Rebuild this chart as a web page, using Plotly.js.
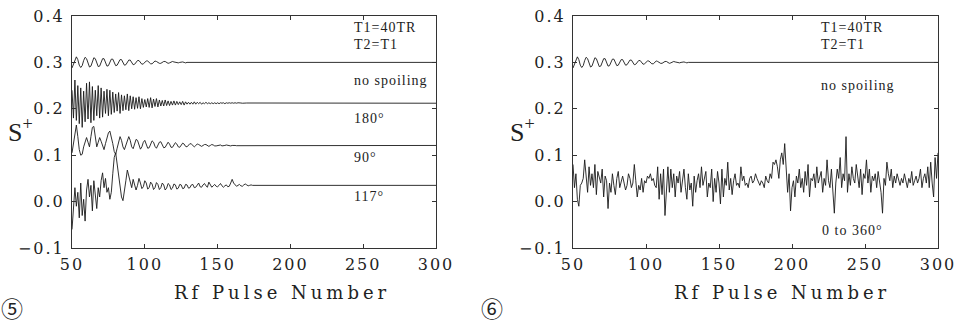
<!DOCTYPE html>
<html>
<head>
<meta charset="utf-8">
<script src="https://cdn.plot.ly/plotly-3.0.1.min.js"></script>
<style>
html,body{margin:0;padding:0;background:#fff;}
.xtick text,.ytick text,.x2tick text,.y2tick text{letter-spacing:2px;}
</style>
</head>
<body>
<div id="chart" style="width:957px;height:324px;"></div>
<script>
// ---------- DATA ----------
var firstPulse = 50;
var lastPulse = 300;
var xTicks = [50, 100, 150, 200, 250, 300];
var yTicks = [-0.1, 0.0, 0.1, 0.2, 0.3, 0.4];

// steady-state values reached by each curve (left panel)
var steadyNoSpoil = 0.300;
var steady180 = 0.212;
var steady90 = 0.121;
var steady117 = 0.035;

// no spoiling (pulses 50..135)
var noSpoil = [0.288,0.296,0.308,0.312,0.306,0.294,0.289,0.293,0.304,0.311,
0.308,0.297,0.290,0.292,0.302,0.310,0.308,0.299,0.291,0.292,
0.300,0.308,0.308,0.300,0.292,0.293,0.300,0.307,0.307,0.300,
0.293,0.294,0.300,0.306,0.306,0.300,0.294,0.295,0.300,0.305,
0.305,0.300,0.295,0.296,0.300,0.304,0.304,0.300,0.296,0.297,
0.300,0.303,0.303,0.300,0.297,0.297,0.300,0.303,0.302,0.300,
0.298,0.298,0.300,0.302,0.302,0.300,0.298,0.299,0.300,0.302,
0.301,0.300,0.299,0.299,0.300,0.301,0.301,0.300,0.299,0.300,
0.300,0.301,0.300,0.300,0.2995,0.300];

// 180 degree spoiling (pulses 50..170)
var spoil180 = [0.240,0.180,0.262,0.175,0.250,0.168,0.245,0.160,0.238,0.172,
0.255,0.178,0.258,0.170,0.248,0.175,0.240,0.185,0.250,0.180,
0.245,0.182,0.238,0.190,0.242,0.185,0.240,0.188,0.236,0.192,
0.232,0.195,0.235,0.190,0.230,0.196,0.228,0.198,0.232,0.196,
0.228,0.200,0.226,0.199,0.224,0.201,0.226,0.200,0.222,0.203,
0.220,0.204,0.222,0.203,0.224,0.202,0.221,0.205,0.222,0.204,
0.219,0.206,0.218,0.206,0.219,0.207,0.217,0.207,0.216,0.208,
0.217,0.208,0.216,0.209,0.215,0.209,0.216,0.208,0.215,0.210,
0.214,0.210,0.214,0.210,0.215,0.210,0.214,0.211,0.214,0.210,
0.213,0.211,0.214,0.211,0.213,0.211,0.213,0.211,0.213,0.211,
0.213,0.211,0.213,0.212,0.213,0.211,0.213,0.212,0.213,0.212,
0.213,0.212,0.213,0.212,0.213,0.212,0.2125,0.212,0.2125,0.212,0.2125];

// 90 degree spoiling (pulses 50..165)
var spoil90 = [0.105,0.125,0.150,0.165,0.140,0.112,0.100,0.102,0.118,0.130,
0.138,0.128,0.118,0.140,0.160,0.162,0.140,0.118,0.128,0.138,
0.130,0.118,0.112,0.125,0.138,0.148,0.152,0.140,0.125,0.108,
0.102,0.115,0.130,0.140,0.132,0.118,0.112,0.122,0.135,0.140,
0.132,0.118,0.114,0.122,0.134,0.132,0.120,0.113,0.118,0.128,
0.132,0.125,0.115,0.116,0.125,0.131,0.128,0.119,0.115,0.120,
0.128,0.129,0.122,0.116,0.117,0.124,0.128,0.124,0.117,0.117,
0.123,0.127,0.124,0.118,0.117,0.122,0.126,0.124,0.119,0.118,
0.121,0.125,0.124,0.120,0.118,0.121,0.124,0.123,0.120,0.119,
0.121,0.123,0.123,0.120,0.119,0.121,0.123,0.122,0.120,0.120,
0.121,0.122,0.122,0.120,0.120,0.121,0.122,0.121,0.120,0.120,
0.121,0.1215,0.121,0.1205,0.1205,0.121];

// 117 degree spoiling (pulses 50..175)
var spoil117 = [-0.060,-0.020,0.030,-0.010,0.020,-0.035,0.040,-0.030,0.005,-0.042,
0.025,0.048,0.010,0.035,-0.020,0.045,0.020,-0.015,0.030,0.010,
0.045,0.062,0.030,0.050,0.020,0.030,0.005,0.020,0.060,0.095,
0.105,0.080,0.050,0.025,0.010,0.002,0.020,0.045,0.068,0.055,
0.040,0.030,0.048,0.038,0.025,0.035,0.050,0.040,0.028,0.032,
0.045,0.040,0.027,0.030,0.042,0.038,0.026,0.030,0.041,0.037,
0.026,0.030,0.040,0.036,0.025,0.029,0.039,0.036,0.026,0.029,
0.038,0.036,0.027,0.029,0.037,0.036,0.028,0.029,0.037,0.036,
0.029,0.030,0.036,0.037,0.030,0.031,0.037,0.040,0.032,0.031,
0.036,0.039,0.034,0.031,0.042,0.035,0.031,0.034,0.037,0.033,
0.032,0.035,0.039,0.034,0.031,0.034,0.036,0.032,0.033,0.040,
0.048,0.040,0.035,0.033,0.035,0.037,0.034,0.033,0.036,0.038,
0.036,0.034,0.035,0.036,0.035,0.035];

// random 0 to 360 degree spoiling (right panel, pulses 50..300)
var spoilRandom = [0.080,0.030,0.060,0.005,-0.010,0.035,0.040,0.050,0.090,0.045,
0.020,0.075,0.035,0.060,0.030,0.080,0.015,0.065,0.050,0.040,
0.070,0.010,0.055,0.045,-0.015,0.040,0.020,0.060,0.035,0.015,
0.050,0.065,0.030,0.045,0.055,0.040,0.025,0.035,0.060,0.050,
0.030,0.040,0.080,0.045,0.010,0.035,0.025,0.050,0.020,0.045,
0.040,0.055,0.050,0.060,0.045,0.050,0.035,0.030,0.075,0.005,
0.060,0.015,0.070,-0.030,0.040,0.075,0.020,0.070,0.030,0.060,
0.010,0.055,0.040,0.065,0.020,0.050,0.070,0.030,0.005,0.060,
0.025,0.040,-0.010,0.055,0.020,0.045,0.060,0.030,0.075,0.035,
0.050,0.065,0.010,0.040,0.030,0.070,0.000,0.050,0.020,0.065,
0.040,-0.005,0.070,0.010,0.050,0.035,0.085,0.025,0.050,0.015,
0.045,0.060,0.035,0.040,0.030,0.075,0.045,0.055,0.035,0.040,
0.030,0.050,0.055,0.040,0.045,0.060,0.050,0.040,0.035,0.045,
0.040,0.030,0.055,0.045,0.040,0.060,0.050,0.085,0.080,0.090,
0.075,0.050,0.090,0.105,0.080,0.125,0.070,0.020,0.060,-0.020,
0.030,0.045,0.010,0.055,0.040,0.070,0.030,0.050,0.020,0.065,
0.035,0.080,0.010,0.050,0.045,0.060,0.030,0.075,0.040,0.055,
0.065,0.020,0.050,0.035,0.090,0.045,0.030,0.070,0.010,-0.025,
0.040,0.070,0.050,0.095,0.030,0.060,0.045,0.140,0.020,0.060,
0.035,0.075,0.050,0.040,0.080,0.060,0.030,0.070,0.015,0.060,
0.050,0.090,0.040,0.070,0.020,0.055,0.045,0.060,0.030,0.065,
0.040,0.020,-0.025,0.050,0.035,0.085,0.060,0.045,0.070,0.030,
0.055,0.040,0.060,0.045,0.035,0.050,0.040,0.060,0.045,0.030,
0.050,0.040,0.065,0.035,0.045,0.055,0.040,0.050,0.070,0.030,
0.050,0.060,0.040,0.075,0.030,0.085,0.040,0.010,0.095,0.050,
0.105];

var leftLabels = ["T1=40TR", "T2=T1", "no spoiling", "180°", "90°", "117°"];
var rightLabels = ["T1=40TR", "T2=T1", "no spoiling", "0 to 360°"];
var xTitle = "Rf Pulse Number";
var yTitle = "S<sup>+</sup>";
var panelNumbers = ["⑤", "⑥"];

// ---------- BUILD ----------
function series(vals, steady) {
  var x = [], y = [];
  for (var i = 0; i < vals.length; i++) { x.push(firstPulse + i); y.push(vals[i]); }
  if (steady !== undefined) { x.push(lastPulse); y.push(steady); }
  return {x: x, y: y};
}
var lineStyle = {color: '#1a1a1a', width: 0.9};
function trace(s, xa, ya) {
  return {x: s.x, y: s.y, xaxis: xa, yaxis: ya, type: 'scatter', mode: 'lines',
          line: lineStyle, hoverinfo: 'skip'};
}
var data = [
  trace(series(noSpoil, steadyNoSpoil), 'x', 'y'),
  trace(series(spoil180, steady180), 'x', 'y'),
  trace(series(spoil90, steady90), 'x', 'y'),
  trace(series(spoil117, steady117), 'x', 'y'),
  trace(series(noSpoil, steadyNoSpoil), 'x2', 'y2'),
  trace(series(spoilRandom), 'x2', 'y2')
];

var W = 957, H = 324;
function px(v) { return v / W; }
function py(v) { return 1 - v / H; }

var serif = 'DejaVu Serif, Liberation Serif, serif';
var tickFont = {family: serif, size: 16, color: '#222'};
function xAxis(dom, anchor) {
  return {domain: dom, anchor: anchor, range: [firstPulse, lastPulse], tickmode: 'array',
    tickvals: xTicks, ticks: 'inside', ticklen: 4, tickcolor: '#333', mirror: 'ticks',
    showline: true, linecolor: '#333', linewidth: 1, showgrid: false, zeroline: false,
    tickfont: tickFont, ticklabelstandoff: 2};
}
function yAxis(dom, anchor) {
  return {domain: dom, anchor: anchor, range: [-0.1, 0.4], tickmode: 'array',
    tickvals: yTicks, tickformat: '.1f', ticks: 'inside', ticklen: 4, tickcolor: '#333',
    mirror: 'ticks', showline: true, linecolor: '#333', linewidth: 1, showgrid: false,
    zeroline: false, tickfont: tickFont, ticklabelstandoff: 3};
}
var yDom = [py(248), py(16)];

var labFont = {family: 'Liberation Serif, serif', size: 14, color: '#222'};
function lab(text, xpx, ypx) {
  return {text: '<span style="letter-spacing:1px">' + text + '</span>', xref: 'paper', yref: 'paper',
    x: px(xpx), y: py(ypx), xanchor: 'left', yanchor: 'middle', showarrow: false, font: labFont};
}
var annotations = [
  lab(leftLabels[0], 352, 28), lab(leftLabels[1], 352, 45), lab(leftLabels[2], 352, 80),
  lab(leftLabels[3], 352, 118), lab(leftLabels[4], 352, 158), lab(leftLabels[5], 352, 196),
  lab(rightLabels[0], 819, 28), lab(rightLabels[1], 819, 45), lab(rightLabels[2], 819, 85),
  lab(rightLabels[3], 820, 231)
];
[282, 782].forEach(function (cx) {
  annotations.push({text: '<span style="letter-spacing:4px">' + xTitle + '</span>', xref: 'paper', yref: 'paper',
    x: px(cx), y: py(292), xanchor: 'center', yanchor: 'middle', showarrow: false,
    font: {family: serif, size: 18, color: '#222'}});
});
[[20, 130], [522, 130]].forEach(function (p) {
  annotations.push({text: yTitle, xref: 'paper', yref: 'paper', x: px(p[0]), y: py(p[1]),
    xanchor: 'center', yanchor: 'middle', showarrow: false,
    font: {family: 'Liberation Serif, serif', size: 26, color: '#222'}});
});
[[12, 307], [492, 307]].forEach(function (p, i) {
  annotations.push({text: panelNumbers[i], xref: 'paper', yref: 'paper', x: px(p[0]), y: py(p[1]),
    xanchor: 'center', yanchor: 'middle', showarrow: false,
    font: {family: 'Noto Sans CJK JP, DejaVu Sans, sans-serif', size: 22, color: '#222'}});
});

var layout = {
  width: W, height: H, margin: {l: 0, r: 0, t: 0, b: 0},
  paper_bgcolor: '#fff', plot_bgcolor: '#fff', showlegend: false,
  xaxis: xAxis([px(72), px(436)], 'y'),
  yaxis: yAxis(yDom, 'x'),
  xaxis2: xAxis([px(573), px(938)], 'y2'),
  yaxis2: yAxis(yDom, 'x2'),
  annotations: annotations
};
Plotly.newPlot('chart', data, layout, {staticPlot: true, displayModeBar: false});
</script>
</body>
</html>
